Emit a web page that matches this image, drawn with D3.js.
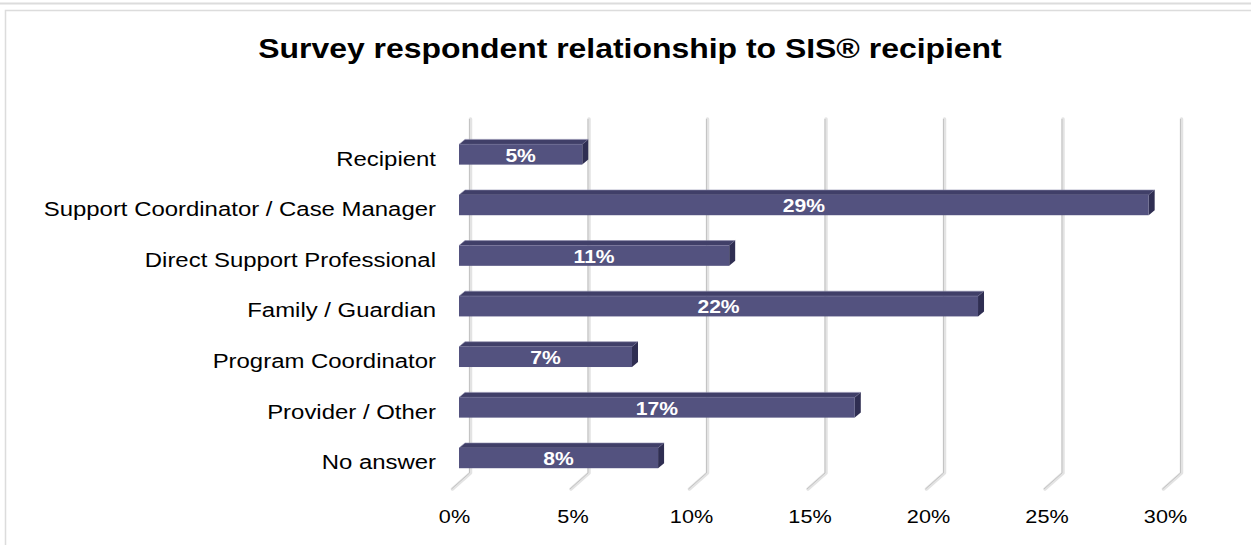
<!DOCTYPE html>
<html>
<head>
<meta charset="utf-8">
<script src="https://cdn.jsdelivr.net/npm/d3@7"></script>
<style>
  body { margin: 0; background: #fff; }
  svg { display: block; font-family: Arial, "Liberation Sans", sans-serif; }
</style>
</head>
<body>
<div id="chart"></div>
<script>
// survey relationship chart - 3D style horizontal bars

var categories = ["Recipient", "Support Coordinator / Case Manager", "Direct Support Professional",
  "Family / Guardian", "Program Coordinator", "Provider / Other", "No answer"];
var shares = [5.2, 29.1, 11.4, 21.9, 7.3, 16.7, 8.4];
var tickValues = [0, 5, 10, 15, 20, 25, 30];
var tickLabels = ["0%", "5%", "10%", "15%", "20%", "25%", "30%"];

var svgWidth = 1251;
var svgHeight = 545;
var stretch = 1.14; // the original text is a bit wide

var svg = d3.select("#chart")
  .append("svg")
  .attr("width", svgWidth)
  .attr("height", svgHeight);

function at(x, y) {
  return `translate(${x}, ${y}) scale(${stretch}, 1)`;
}

// outer frame lines
svg.append("line")
  .attr("x1", 0).attr("x2", svgWidth)
  .attr("y1", 3.5).attr("y2", 3.5)
  .attr("stroke", "#dcdcdc").attr("stroke-width", 2);
svg.append("rect")
  .attr("x", 5.5).attr("y", 10.5)
  .attr("width", 1300).attr("height", 600)
  .attr("fill", "none")
  .attr("stroke", "#dcdcdc").attr("stroke-width", 1.5);

// title
svg.append("text")
  .attr("transform", at(630, 58))
  .attr("text-anchor", "middle")
  .attr("font-size", 28)
  .attr("font-weight", "bold")
  .attr("fill", "#000")
  .text("Survey respondent relationship to SIS\u00AE recipient");

// scales - x is on the back wall
var xScale = d3.scaleLinear()
  .domain([0, 30])
  .range([470.5, 1181.5]);

var yScale = d3.scaleBand()
  .domain(categories)
  .range([129.2, 483.4])
  .paddingInner(0.6)
  .paddingOuter(0.3);

var wallTop = 119;
var wallBottom = 473;
var floorDx = -18, floorDy = 16;   // floor depth
var barShift = -11.5;              // bar front face vs wall
var depthX = 6, depthY = -5;       // bar depth

// gridlines (wall + floor)
var grid = svg.append("g");
tickValues.forEach(function (t) {
  var gx = xScale(t);
  var path = d3.path();
  path.moveTo(gx, wallTop);
  path.lineTo(gx, wallBottom);
  path.lineTo(gx + floorDx, wallBottom + floorDy);
  grid.append("path")
    .attr("d", path.toString())
    .attr("fill", "none")
    .attr("stroke", "#e3e3e3")
    .attr("stroke-width", 3.5)
    .attr("stroke-linecap", "round")
    .attr("stroke-linejoin", "round");
  grid.append("path")
    .attr("d", path.toString())
    .attr("fill", "none")
    .attr("stroke", "#c4c4c4")
    .attr("stroke-width", 1)
    .attr("transform", "translate(-1,0)");
});

// tick labels
svg.append("g").selectAll("text")
  .data(tickValues)
  .enter()
  .append("text")
  .attr("transform", (d) => at(xScale(d) + floorDx + 2, 523))
  .attr("text-anchor", "middle")
  .attr("font-size", 19)
  .attr("fill", "#000")
  .text((d, i) => tickLabels[i]);

// bars
var bars = svg.append("g").selectAll("g")
  .data(categories)
  .enter()
  .append("g");

bars.each(function (c, i) {
  var g = d3.select(this);
  var x0 = xScale(0) + barShift;
  var x1 = xScale(shares[i]) + barShift;
  var y0 = yScale(c);
  var y1 = y0 + yScale.bandwidth();

  // top face
  g.append("polygon")
    .attr("points", [[x0, y0], [x0 + depthX, y0 + depthY], [x1 + depthX, y0 + depthY], [x1, y0]].join(" "))
    .attr("fill", "#403f68")
    .attr("stroke", "#8d8cab")
    .attr("stroke-width", 0.6);
  // side face
  g.append("polygon")
    .attr("points", [[x1, y0], [x1 + depthX, y0 + depthY], [x1 + depthX, y1 + depthY], [x1, y1]].join(" "))
    .attr("fill", "#2f2e52");
  // front face
  g.append("rect")
    .attr("x", x0)
    .attr("y", y0)
    .attr("width", x1 - x0)
    .attr("height", y1 - y0)
    .attr("fill", "#53527f");
});

// value labels
svg.append("g").selectAll("text")
  .data(categories)
  .enter()
  .append("text")
  .attr("transform", (d, i) => at((xScale(0) + xScale(shares[i])) / 2 + barShift,
    yScale(d) + yScale.bandwidth() / 2 + 7))
  .attr("text-anchor", "middle")
  .attr("font-size", 18.5)
  .attr("font-weight", "bold")
  .attr("fill", "#fff")
  .text((d, i) => Math.round(shares[i]) + "%");

// category labels
svg.append("g").selectAll("text")
  .data(categories)
  .enter()
  .append("text")
  .attr("transform", (d) => at(436, yScale(d) + yScale.bandwidth() / 2 + 11))
  .attr("text-anchor", "end")
  .attr("font-size", 21)
  .attr("fill", "#000")
  .text((d) => d);
</script>
</body>
</html>
